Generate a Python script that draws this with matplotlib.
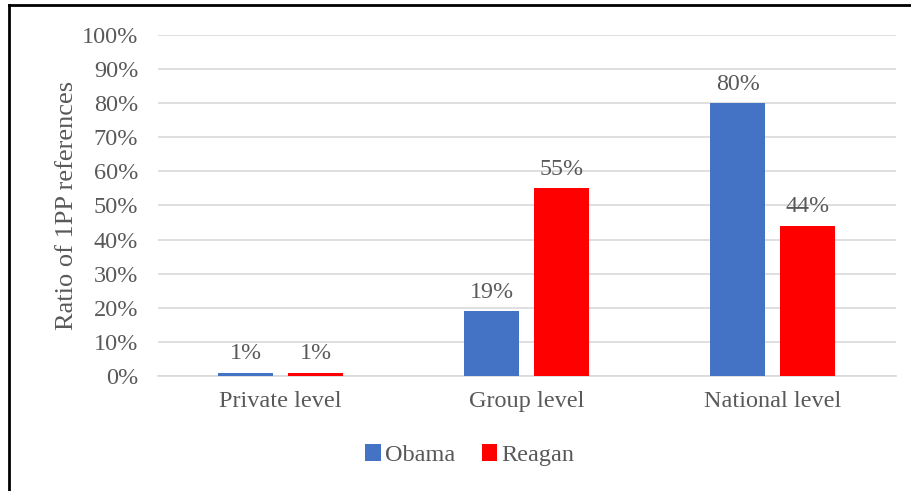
import numpy as np
import matplotlib
matplotlib.use("Agg")
import matplotlib.pyplot as plt
from matplotlib.lines import Line2D

plt.rcParams["font.family"] = ["Liberation Serif", "DejaVu Serif"]

categories = ["Private level", "Group level", "National level"]
obama = [1, 19, 80]
reagan = [1, 55, 44]
y_ticks = list(range(0, 101, 10))

TEXT = "#595959"
BLUE = "#4472C4"
RED = "#FF0000"

fig = plt.figure(figsize=(9.12, 4.91), dpi=100)
ax = fig.add_axes([0.173, 0.234, 0.809, 0.695])

x = np.arange(len(categories))
w = 0.224
off = 0.1425
b1 = ax.bar(x - off, obama, width=w, color=BLUE, label="Obama", zorder=3)
b2 = ax.bar(x + off, reagan, width=w, color=RED, label="Reagan", zorder=3)

for bars, vals in ((b1, obama), (b2, reagan)):
    for rect, v in zip(bars, vals):
        ax.text(rect.get_x() + rect.get_width() / 2, v + 2.5, f"{v}%",
                ha="center", va="bottom", fontsize=17.3, color=TEXT)

ax.set_xlim(-0.5, 2.5)
ax.set_ylim(0, 100)
ax.set_yticks(y_ticks)
ax.set_yticklabels([f"{t}%" for t in y_ticks])
ax.set_xticks(x)
ax.set_xticklabels(categories)
ax.tick_params(axis="both", length=0, labelsize=17.5, labelcolor=TEXT)
ax.tick_params(axis="y", pad=14)
ax.tick_params(axis="x", pad=11)
ax.grid(axis="y", color="#D9D9D9", linewidth=1.2, zorder=0)
for s in ("top", "right", "left"):
    ax.spines[s].set_visible(False)
ax.spines["bottom"].set_color("#D9D9D9")
ax.spines["bottom"].set_linewidth(1.2)

ax.set_ylabel("Ratio of 1PP references", fontsize=19, color=TEXT, labelpad=3)

fig.legend(handles=[b1, b2], labels=["Obama", "Reagan"], loc="center",
           bbox_to_anchor=(0.515, 0.073), ncol=2, frameon=False,
           fontsize=17.5, labelcolor=TEXT, handlelength=0.65, handleheight=0.65,
           handletextpad=0.15, columnspacing=1.1)

# outer frame (top and left only)
fig.add_artist(Line2D([0.0099, 1.0], [0.99, 0.99], color="black", linewidth=2,
                      transform=fig.transFigure))
fig.add_artist(Line2D([0.0099, 0.0099], [0.0, 0.99], color="black", linewidth=2,
                      transform=fig.transFigure))

plt.savefig("out.png", dpi=100)
plt.close(fig)
